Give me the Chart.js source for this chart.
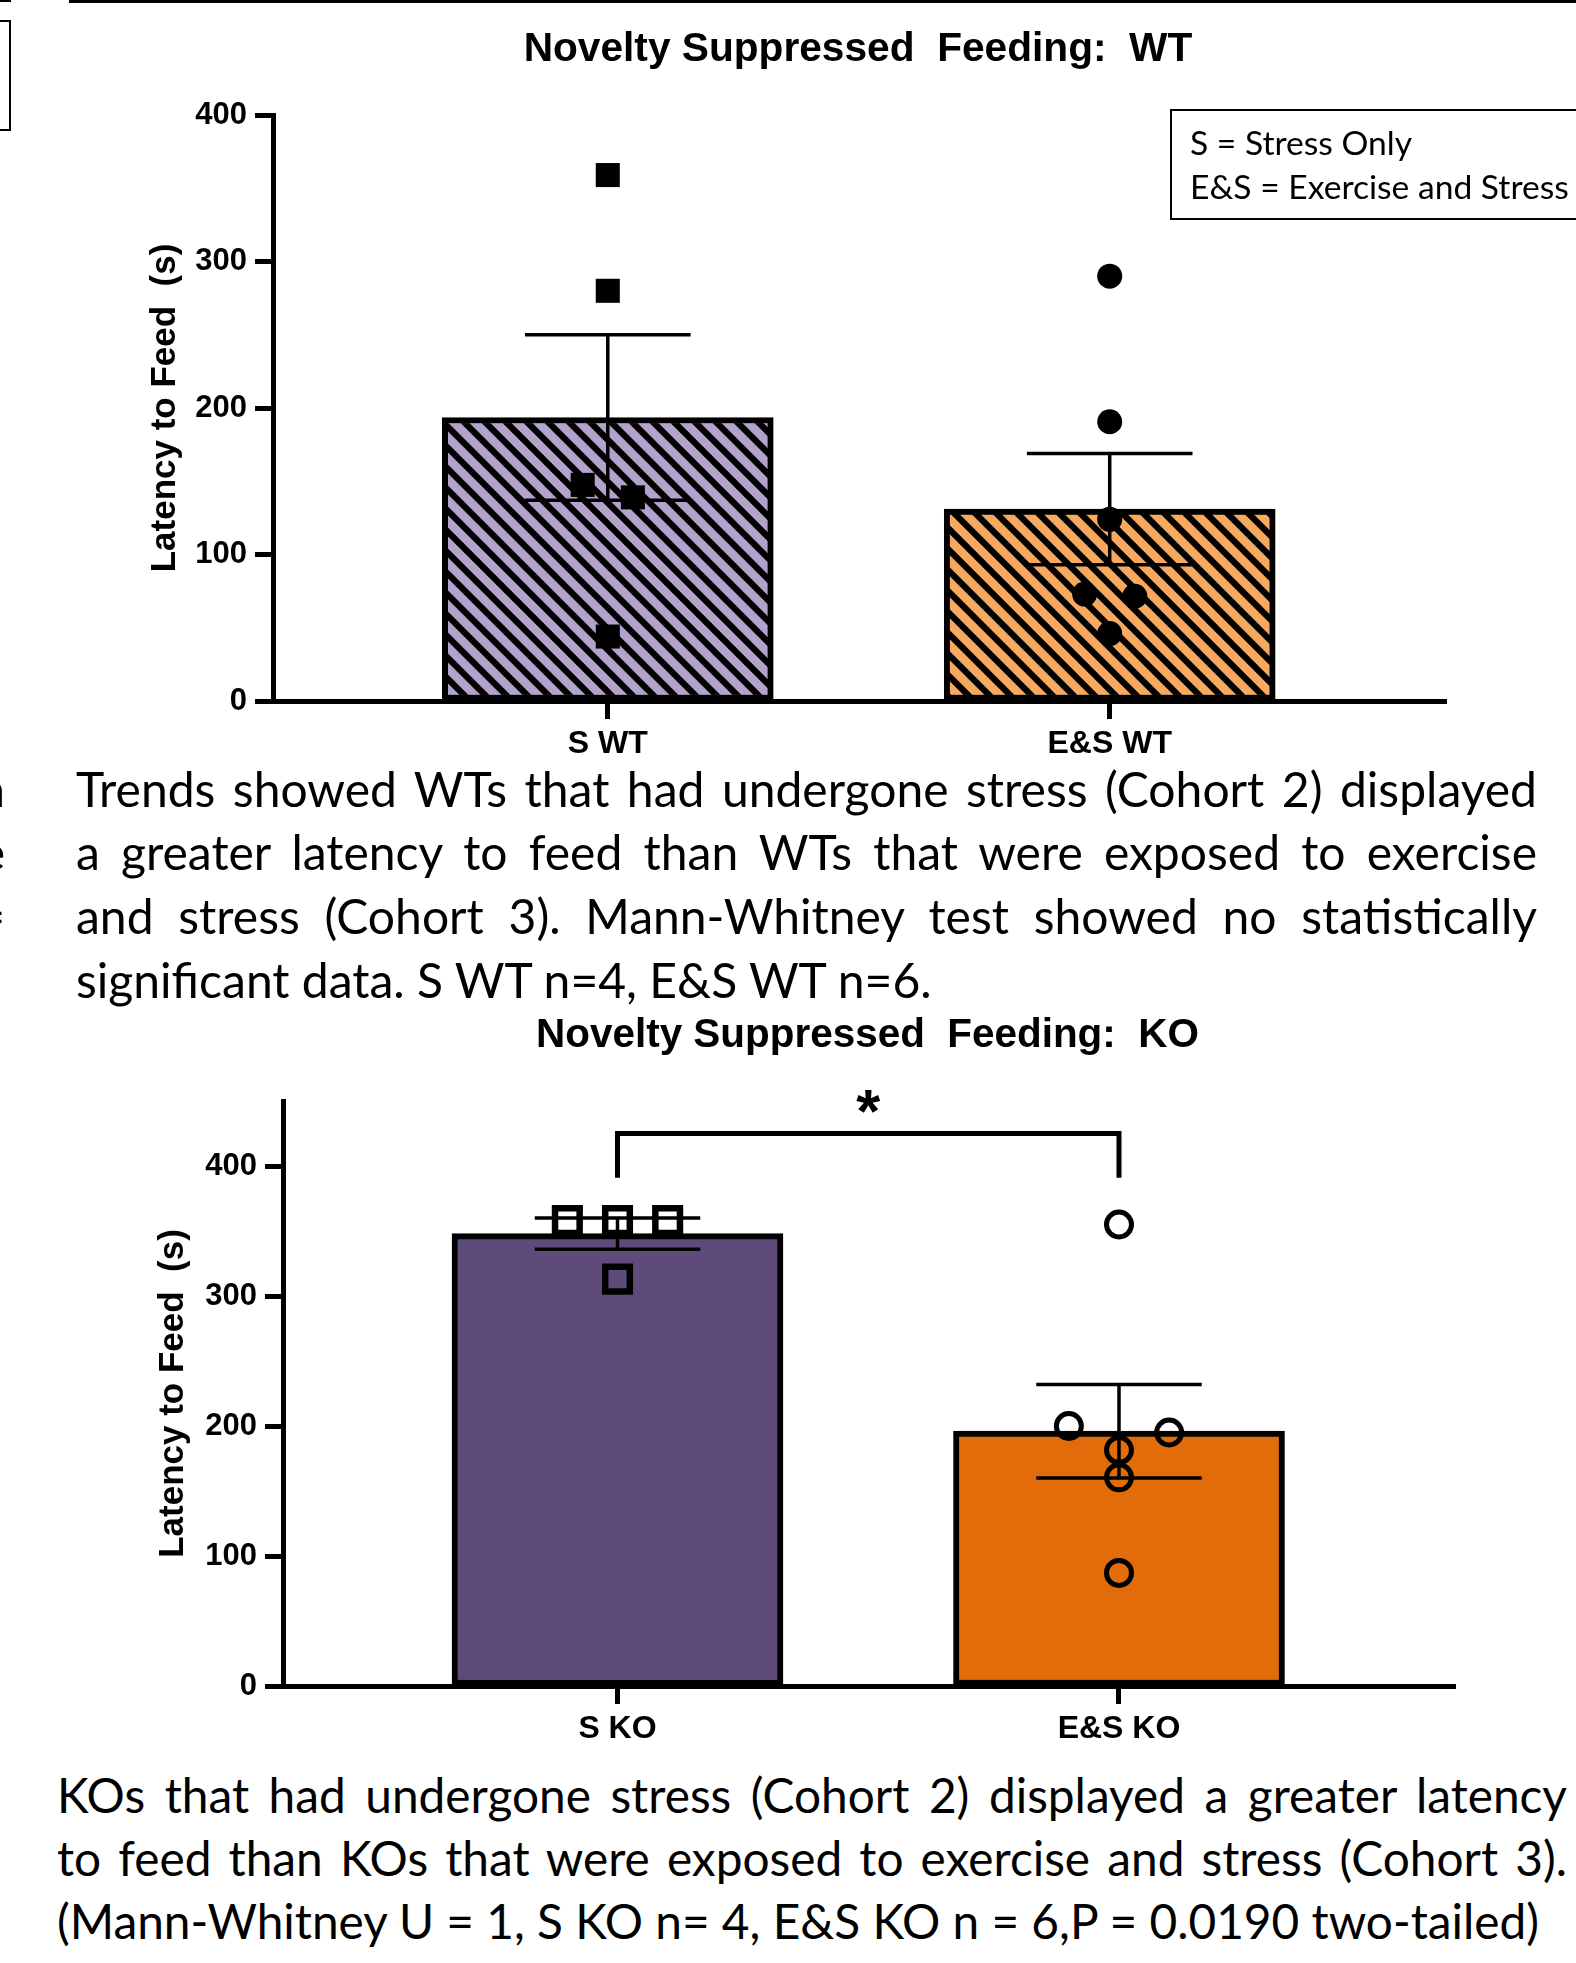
<!DOCTYPE html>
<html>
<head>
<meta charset="utf-8">
<script src="https://cdn.jsdelivr.net/npm/chart.js@4.4.1/dist/chart.umd.min.js"></script>
<style>
  html, body { margin: 0; padding: 0; background: #fff; }
  #page { position: relative; width: 1576px; height: 1963px; overflow: hidden; background: #fff; }
  canvas { position: absolute; left: 0; }
  .txt { position: absolute; color: #000; white-space: pre; line-height: 1; }
  .just { white-space: nowrap; text-align: justify; text-align-last: justify; }
  .bar { position: absolute; background: #000; }
</style>
</head>
<body>
<div id="page">
  <div class="bar" style="left:0;top:0;width:11px;height:2px"></div>
  <div class="bar" style="left:69px;top:0;width:1507px;height:3px"></div>
  <div style="position:absolute;left:-4px;top:20px;width:15px;height:111px;border:2px solid #000;box-sizing:border-box"></div>
  <div style="position:absolute;left:1170px;top:109px;width:440px;height:111px;border:2px solid #000;box-sizing:border-box"></div>
  <canvas id="wt" width="1576" height="770" style="top:0"></canvas>
  <canvas id="ko" width="1576" height="760" style="top:1000px"></canvas>
</div>
<script>
// WT panel
const wtGroups = ['S WT', 'E&S WT'];
const wtMean = [193.5, 131];
const wtSem = [56.5, 38];
const wtStress = [359, 280, 147.5, 139, 44];
const wtStressJitter = [0, 0, -0.05, 0.05, 0];
const wtExStress = [290, 190.6, 124, 73, 71.5, 46];
const wtExStressJitter = [0, 0, 0, -0.05, 0.05, 0];
const wtTicks = [0, 100, 200, 300, 400];

// KO panel
const koGroups = ['S KO', 'E&S KO'];
const koMean = [348, 196];
const koSem = [12, 36];
const koStress = [358, 358, 358, 313];
const koStressJitter = [-0.1, 0, 0.1, 0];
const koExStress = [355, 200, 195, 181.5, 160.5, 87];
const koExStressJitter = [0, -0.1, 0.1, 0, 0, 0];
const koTicks = [0, 100, 200, 300, 400];
const koBracketX = [0, 0, 1, 1];
const koBracketY = [391, 425, 425, 391];
const koStarAt = [0.5, 450];

const ARIAL = "'Liberation Sans', Arial, sans-serif";
const CALIBRI = "Lato, 'Open Sans', sans-serif";
Chart.defaults.font.family = ARIAL;

function hatch(bg) {
  const P = 21;
  const c = document.createElement('canvas');
  c.width = c.height = P;
  const g = c.getContext('2d');
  g.fillStyle = bg;
  g.fillRect(0, 0, P, P);
  g.strokeStyle = '#000';
  g.lineWidth = 6.3;
  g.beginPath();
  for (const k of [-1, 0, 1]) {
    g.moveTo(k * P - 5, -5);
    g.lineTo(k * P + P + 5, P + 5);
  }
  g.stroke();
  return g.createPattern(c, 'repeat');
}

// SEM whiskers, drawn right after the bars
const errorBars = {
  id: 'errorBars',
  afterDatasetDraw(chart, args, o) {
    if (args.index !== 0) return;
    const { ctx, scales: { x, y } } = chart;
    ctx.save();
    ctx.strokeStyle = '#000';
    ctx.lineWidth = 3.5;
    chart.data.datasets[0].data.forEach((b, i) => {
      const cx = x.getPixelForValue(b.x);
      const hi = y.getPixelForValue(b.y + o.sem[i]);
      const lo = y.getPixelForValue(b.y - o.sem[i]);
      const l = x.getPixelForValue(b.x - o.cap);
      const r = x.getPixelForValue(b.x + o.cap);
      ctx.beginPath();
      ctx.moveTo(cx, hi); ctx.lineTo(cx, lo);
      ctx.moveTo(l, hi); ctx.lineTo(r, hi);
      ctx.moveTo(l, lo); ctx.lineTo(r, lo);
      ctx.stroke();
    });
    ctx.restore();
  }
};

const starMark = {
  id: 'starMark',
  afterDatasetsDraw(chart, args, o) {
    if (!o.text) return;
    const { ctx, scales: { x, y } } = chart;
    ctx.save();
    ctx.font = 'bold 100px ' + ARIAL;
    let m = ctx.measureText(o.text);
    const size = 100 * o.width / (m.actualBoundingBoxLeft + m.actualBoundingBoxRight);
    ctx.font = 'bold ' + size + 'px ' + ARIAL;
    m = ctx.measureText(o.text);
    const px = x.getPixelForValue(o.at[0]);
    const py = y.getPixelForValue(o.at[1]);
    ctx.fillStyle = '#000';
    ctx.textAlign = 'left';
    ctx.textBaseline = 'alphabetic';
    ctx.fillText(o.text,
      px - (m.actualBoundingBoxRight - m.actualBoundingBoxLeft) / 2,
      py + (m.actualBoundingBoxAscent - m.actualBoundingBoxDescent) / 2);
    ctx.restore();
  }
};

function panel(id, o) {
  const grid = { display: true, drawOnChartArea: false, drawTicks: true, offset: false,
                 tickLength: 18, tickWidth: 5, tickColor: '#000' };
  const border = { display: true, color: '#000', width: 5 };

  const datasets = [
    { type: 'bar', order: 3,
      data: o.means.map((y, i) => ({ x: i, y })),
      backgroundColor: o.fills, borderColor: '#000', borderWidth: 6,
      borderSkipped: false, barThickness: 331 },
    Object.assign({ type: 'scatter', order: 1,
      data: o.a.map((y, i) => ({ x: o.aj[i], y })) }, o.aStyle),
    Object.assign({ type: 'scatter', order: 1,
      data: o.b.map((y, i) => ({ x: 1 + o.bj[i], y })) }, o.bStyle)
  ];
  if (o.bracketX) {
    datasets.push({ type: 'line', order: 2,
      data: o.bracketX.map((x, i) => ({ x, y: o.bracketY[i] })),
      borderColor: '#000', borderWidth: 5, pointRadius: 0, fill: false,
      tension: 0, borderJoinStyle: 'miter', borderCapStyle: 'butt' });
  }

  return new Chart(document.getElementById(id), {
    type: 'bar',
    data: { datasets },
    plugins: [errorBars, starMark],
    options: {
      responsive: false,
      animation: false,
      devicePixelRatio: 1,
      events: [],
      layout: { padding: o.pad },
      plugins: {
        legend: { display: false },
        tooltip: { enabled: false },
        errorBars: { sem: o.sem, cap: 0.165 },
        starMark: o.star || {}
      },
      scales: {
        x: {
          type: 'linear', min: -0.667, max: 1.67, offset: false,
          grid, border,
          afterBuildTicks: s => { s.ticks = o.groups.map((g, i) => ({ value: i })); },
          ticks: { color: '#000', font: { family: ARIAL, weight: 'bold', size: 32 },
                   padding: 6, maxRotation: 0, autoSkip: false,
                   callback: v => o.groups[v] },
          afterFit: s => { s.height = o.xHeight; }
        },
        y: {
          type: 'linear', min: 0, max: o.yMax,
          grid, border,
          afterBuildTicks: s => { s.ticks = o.yTicks.map(v => ({ value: v })); },
          ticks: { color: '#000', font: { family: ARIAL, weight: 'bold', size: 31 }, padding: 8 },
          title: { display: true, text: 'Latency to Feed  (s)', color: '#000',
                   font: { family: ARIAL, weight: 'bold', size: 35 },
                   padding: { top: o.titlePad, bottom: 0 } },
          afterFit: s => { s.width = o.yWidth; }
        }
      }
    }
  });
}

panel('wt', {
  groups: wtGroups, means: wtMean, sem: wtSem,
  fills: [hatch('#b3a3cc'), hatch('#f7a960')],
  a: wtStress, aj: wtStressJitter, b: wtExStress, bj: wtExStressJitter,
  aStyle: { pointStyle: 'rect', pointRadius: 17, backgroundColor: '#000', borderWidth: 0 },
  bStyle: { pointStyle: 'circle', pointRadius: 12.5, backgroundColor: '#000', borderWidth: 0 },
  yMax: 400, yTicks: wtTicks,
  pad: { left: 0, right: 130, top: 115, bottom: 0 }, xHeight: 69, yWidth: 273, titlePad: 144
});

panel('ko', {
  groups: koGroups, means: koMean, sem: koSem,
  fills: ['#5f4b7b', '#e36c0a'],
  a: koStress, aj: koStressJitter, b: koExStress, bj: koExStressJitter,
  aStyle: { pointStyle: 'rect', pointRadius: 17.4, backgroundColor: 'rgba(0,0,0,0)', borderColor: '#000', borderWidth: 6.5 },
  bStyle: { pointStyle: 'circle', pointRadius: 12.5, backgroundColor: 'rgba(0,0,0,0)', borderColor: '#000', borderWidth: 5 },
  bracketX: koBracketX, bracketY: koBracketY,
  star: { text: '*', at: koStarAt, width: 24 },
  yMax: 450, yTicks: koTicks,
  pad: { left: 0, right: 121, top: 101, bottom: 0 }, xHeight: 74, yWidth: 283, titlePad: 152
});

// ---- text outside the plot areas ----
const page = document.getElementById('page');
const meas = document.createElement('canvas').getContext('2d');
function widthOf(str, font) { meas.font = font; return meas.measureText(str).width; }

function addLine(str, font, left, base, justifyWidth, alignRight) {
  const el = document.createElement('div');
  el.className = 'txt';
  el.textContent = str;
  el.style.font = font;
  el.style.lineHeight = '1';
  if (justifyWidth) {
    el.classList.add('just');
    el.style.width = justifyWidth + 'px';
  }
  if (alignRight != null) {
    el.style.width = '200px';
    el.style.textAlign = 'right';
    left = alignRight - 200;
  }
  el.style.left = left + 'px';
  el.style.top = '0px';
  page.appendChild(el);
  const probe = document.createElement('span');
  probe.style.cssText = 'display:inline-block;width:0;height:0;vertical-align:baseline';
  el.prepend(probe);
  const off = probe.getBoundingClientRect().bottom - el.getBoundingClientRect().top;
  el.style.top = (base - off) + 'px';
  return el;
}

function title(str, cx, base, width) {
  const size = 100 * width / widthOf(str, 'bold 100px ' + ARIAL);
  const font = 'bold ' + size + 'px ' + ARIAL;
  addLine(str, font, cx - widthOf(str, font) / 2, base);
}

function paragraph(lines, left, bases, fullWidth, lastWidth) {
  let size = 1000;
  lines.forEach((s, i) => {
    const w = widthOf(s, '100px ' + CALIBRI);
    const target = i === lines.length - 1 ? lastWidth : fullWidth - 2;
    size = Math.min(size, 100 * target / w);
  });
  const font = size + 'px ' + CALIBRI;
  lines.forEach((s, i) => {
    addLine(s, font, left, bases[i], i === lines.length - 1 ? 0 : fullWidth);
  });
  return font;
}

title('Novelty Suppressed  Feeding:  WT', 858, 60.5, 669);
title('Novelty Suppressed  Feeding:  KO', 867.5, 1047, 663);

const legendLines = ['S = Stress Only', 'E&S = Exercise and Stress'];
const legendSize = 100 * 379 / widthOf(legendLines[1], '100px ' + CALIBRI);
addLine(legendLines[0], legendSize + 'px ' + CALIBRI, 1190, 155);
addLine(legendLines[1], legendSize + 'px ' + CALIBRI, 1190, 199);

const p1Font = paragraph([
  'Trends showed WTs that had undergone stress (Cohort 2) displayed',
  'a greater latency to feed than WTs that were exposed to exercise',
  'and stress (Cohort 3). Mann-Whitney test showed no statistically',
  'significant data. S WT n=4, E&S WT n=6.'
], 76, [807, 870, 934, 998], 1461, 860);

paragraph([
  'KOs that had undergone stress (Cohort 2) displayed a greater latency',
  'to feed than KOs that were exposed to exercise and stress (Cohort 3).',
  '(Mann-Whitney U = 1, S KO n= 4, E&S KO n = 6,P = 0.0190 two-tailed)'
], 57, [1813, 1876, 1939], 1510, 1485);

// clipped ends of a neighbouring text column at the left edge
addLine('n', p1Font, 0, 807, 0, 5);
addLine('e', p1Font, 0, 870, 0, 5);
addLine('=', p1Font, 0, 934, 0, 5);
</script>
</body>
</html>
